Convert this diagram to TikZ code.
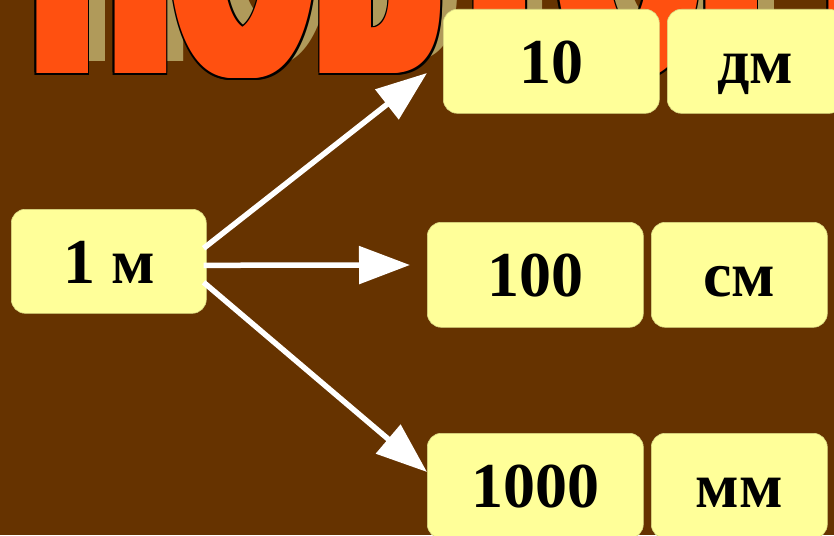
\documentclass[tikz,border=0pt]{standalone}
\usepackage{fontspec}
\setmainfont{Liberation Serif}
\newfontfamily\titlefont{DejaVu Sans}
\usetikzlibrary{arrows.meta,calc}
\definecolor{bg}{HTML}{663300}
\definecolor{boxy}{HTML}{FFFF99}
\definecolor{wa}{HTML}{FF5010}
\definecolor{shade}{HTML}{B09A5A}
\newcommand{\titleword}{\scalebox{1}[2.1]{ПОВТОРИ}}
\tikzset{
  unitbox/.style={fill=boxy, draw=boxy!85!black, line width=0.6pt, rounded corners=14pt,
    font=\fontsize{64}{64}\selectfont\bfseries, text height=50pt, text depth=6pt,
    inner sep=0pt, anchor=north west},
  conn/.style={draw=white, line width=5.5pt, -{Triangle[length=51pt,width=37pt]}},
  titletext/.style={font=\titlefont\bfseries\fontsize{168}{168}\selectfont, anchor=base west, inner sep=0pt}
}
\begin{document}
\begin{tikzpicture}[x=1pt,y=-1pt]
\useasboundingbox (0,0) rectangle (834,535);
\fill[bg] (0,0) rectangle (834,535);
\begin{scope}
\clip (0,0) rectangle (834,535);
% title word art (cropped)
\foreach \dx in {0,2,...,24}{
  \node[titletext, text=shade] (sh\dx) at ({34+\dx},62) {\titleword};
}
\foreach \dx in {-1.5,0,2,...,20,21.5}{
  \node[titletext, text=black] (ba\dx) at ({21+\dx},72.5) {\titleword};
  \node[titletext, text=black] (bb\dx) at ({21+\dx},75.5) {\titleword};
}
\foreach \dx in {0,2,...,20}{
  \node[titletext, text=wa] (or\dx) at ({21+\dx},74) {\titleword};
}
% boxes
\node[unitbox, minimum width=195pt, minimum height=104pt] (one) at (11,209) {1 м};
\node[unitbox, minimum width=216pt, minimum height=104pt] (ten) at (443,9) {10};
\node[unitbox, minimum width=176pt, minimum height=104pt] (dm) at (667,9) {дм};
\node[unitbox, minimum width=216pt, minimum height=105pt] (hund) at (427,222) {100};
\node[unitbox, minimum width=176pt, minimum height=105pt] (cm) at (651,222) {см};
\node[unitbox, minimum width=216pt, minimum height=105pt] (thou) at (427,433) {1000};
\node[unitbox, minimum width=176pt, minimum height=105pt] (mm) at (651,433) {мм};
% arrows
\coordinate (t1) at (427,73);
\coordinate (t2) at (410,265);
\coordinate (t3) at (427,472);
\draw[conn] ($(one.east)+(-3,-13)$) -- (t1);
\draw[conn] ($(one.east)+(-3,4)$) -- (t2);
\draw[conn] ($(one.east)+(-3,21)$) -- (t3);
\end{scope}
\end{tikzpicture}
\end{document}
